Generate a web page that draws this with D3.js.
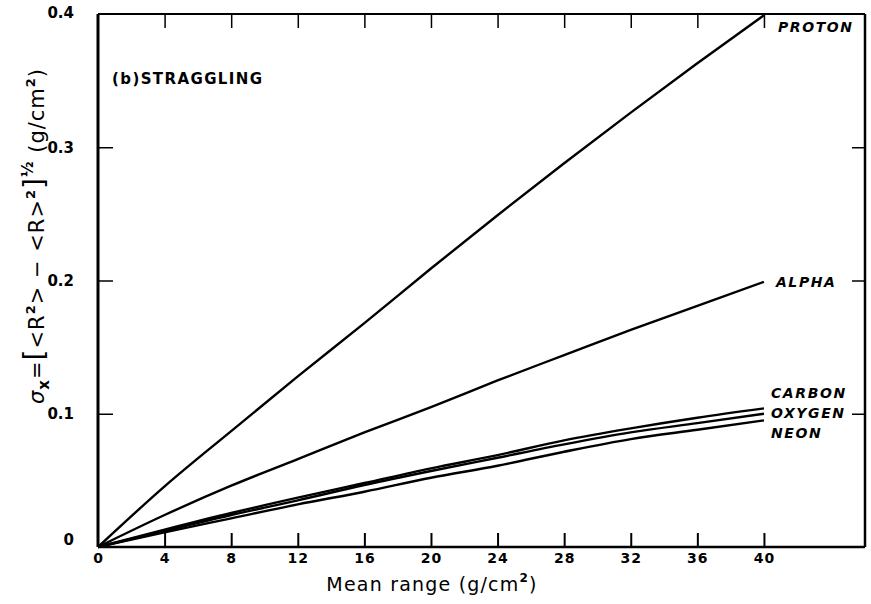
<!DOCTYPE html>
<html>
<head>
<meta charset="utf-8">
<script src="https://cdn.jsdelivr.net/npm/d3@7"></script>
<style>
  body { margin: 0; background: #fff; }
  text { font-family: "DejaVu Sans", "Liberation Sans", sans-serif; fill: #000; }
</style>
</head>
<body>
<svg id="chart" width="871" height="604"></svg>
<script>
// mean range values (g/cm^2)
const ranges = [0, 4, 8, 12, 16, 20, 24, 28, 32, 36, 40];

// straggling sigma_x (g/cm^2)
const proton = [0, 0.0455, 0.087, 0.128, 0.168, 0.209, 0.249, 0.288, 0.326, 0.363, 0.399];
const alpha  = [0, 0.024, 0.046, 0.066, 0.086, 0.105, 0.125, 0.144, 0.163, 0.181, 0.199];
const carbon = [0, 0.013, 0.0255, 0.037, 0.048, 0.059, 0.069, 0.080, 0.089, 0.097, 0.104];
const oxygen = [0, 0.012, 0.024, 0.035, 0.0465, 0.057, 0.067, 0.077, 0.086, 0.093, 0.100];
const neon   = [0, 0.011, 0.0215, 0.032, 0.0415, 0.052, 0.061, 0.0715, 0.081, 0.088, 0.095];

const seriesNames = ["PROTON", "ALPHA", "CARBON", "OXYGEN", "NEON"];
const seriesValues = [proton, alpha, carbon, oxygen, neon];

const xTicks = [0, 4, 8, 12, 16, 20, 24, 28, 32, 36, 40];
const yTicks = [0, 0.1, 0.2, 0.3, 0.4];
const yTickLabels = ["0", "0.1", "0.2", "0.3", "0.4"];

const svg = d3.select("#chart");
const frame = { left: 98, right: 865, top: 14, bottom: 547 };

const x = d3.scaleLinear().domain([0, 46.07]).range([frame.left, frame.right]);
const y = d3.scaleLinear().domain([0, 0.4]).range([frame.bottom, frame.top]);

// frame
svg.append("line").attr("x1", frame.left).attr("x2", frame.left).attr("y1", frame.top).attr("y2", frame.bottom)
    .attr("stroke", "#000").attr("stroke-width", 3);
svg.append("line").attr("x1", frame.left).attr("x2", frame.right).attr("y1", frame.bottom).attr("y2", frame.bottom)
    .attr("stroke", "#000").attr("stroke-width", 2.5);
svg.append("line").attr("x1", frame.left).attr("x2", frame.right).attr("y1", frame.top).attr("y2", frame.top)
    .attr("stroke", "#000").attr("stroke-width", 2);
svg.append("line").attr("x1", frame.right).attr("x2", frame.right).attr("y1", frame.top).attr("y2", frame.bottom)
    .attr("stroke", "#000").attr("stroke-width", 2.5);

// bottom axis: ticks pointing inward
const xAxis = svg.append("g")
    .attr("transform", `translate(0,${frame.bottom})`)
    .call(d3.axisBottom(x).tickValues(xTicks).tickSizeInner(-14).tickSizeOuter(0).tickPadding(6).tickFormat(d3.format("d")));
xAxis.select(".domain").remove();
xAxis.selectAll(".tick line").attr("stroke-width", 2)
    .attr("display", d => d === 0 ? "none" : null);
xAxis.selectAll(".tick text")
    .attr("font-size", 14).attr("font-weight", "bold")
    .attr("font-family", "DejaVu Sans, sans-serif")
    .attr("letter-spacing", 1);

// top ticks
const xTop = svg.append("g")
    .attr("transform", `translate(0,${frame.top})`)
    .call(d3.axisTop(x).tickValues(xTicks.slice(1)).tickSizeInner(-14).tickSizeOuter(0).tickFormat(""));
xTop.select(".domain").remove();
xTop.selectAll(".tick line").attr("stroke-width", 1.5);

// left axis
const yAxis = svg.append("g")
    .attr("transform", `translate(${frame.left},0)`)
    .call(d3.axisLeft(y).tickValues(yTicks).tickSizeInner(-15).tickSizeOuter(0).tickPadding(24)
        .tickFormat((d, i) => yTickLabels[i]));
yAxis.select(".domain").remove();
yAxis.selectAll(".tick line").attr("stroke-width", 1.5)
    .attr("display", d => (d === 0 || d === 0.4) ? "none" : null);
yAxis.selectAll(".tick text")
    .attr("font-size", 15).attr("font-weight", "bold")
    .attr("font-family", "DejaVu Sans, sans-serif")
    .attr("dy", d => d === 0 ? "-0.2em" : (d === 0.4 ? "0.25em" : "0.32em"));

// right ticks
const yRight = svg.append("g")
    .attr("transform", `translate(${frame.right},0)`)
    .call(d3.axisRight(y).tickValues([0.1, 0.2, 0.3]).tickSizeInner(-13).tickSizeOuter(0).tickFormat(""));
yRight.select(".domain").remove();
yRight.selectAll(".tick line").attr("stroke-width", 1.5);

// curves
const line = d3.line()
    .x((d, i) => x(ranges[i]))
    .y(d => y(d))
    .curve(d3.curveMonotoneX);

svg.append("g").selectAll("path")
    .data(seriesValues)
    .join("path")
    .attr("d", line)
    .attr("fill", "none")
    .attr("stroke", "#000")
    .attr("stroke-width", 2.4);

// series labels
const labelPos = [
    { name: "PROTON", dx: 14, yv: 0.3905 },
    { name: "ALPHA", dx: 12, yv: 0.1985 },
    { name: "CARBON", dx: 7, yv: 0.1155 },
    { name: "OXYGEN", dx: 7, yv: 0.1005 },
    { name: "NEON", dx: 7, yv: 0.0855 }
];
svg.append("g").selectAll("text")
    .data(labelPos)
    .join("text")
    .attr("x", d => x(40) + d.dx)
    .attr("y", d => y(d.yv))
    .attr("dy", "0.35em")
    .attr("font-size", 14)
    .attr("font-weight", "bold")
    .attr("font-style", "italic")
    .attr("letter-spacing", 1.6)
    .text(d => d.name);

// panel title
svg.append("text")
    .attr("x", 112).attr("y", 79).attr("dy", "0.35em")
    .attr("font-size", 15).attr("font-weight", "bold")
    .attr("letter-spacing", 1.4)
    .text("(b)STRAGGLING");

// x axis title
const xTitle = svg.append("text")
    .attr("x", 432).attr("y", 591)
    .attr("text-anchor", "middle")
    .attr("font-size", 19)
    .attr("letter-spacing", 1.2);
xTitle.append("tspan").text("Mean range (g/cm");
xTitle.append("tspan").attr("dy", -9).attr("font-size", 12).attr("font-weight", "bold").text("2");
xTitle.append("tspan").attr("dy", 9).text(")");

// y axis title
const yTitle = svg.append("text")
    .attr("transform", "translate(44,236) rotate(-90)")
    .attr("text-anchor", "middle")
    .attr("font-size", 21)
    .attr("letter-spacing", 1);
yTitle.append("tspan").attr("font-style", "italic").text("σ");
yTitle.append("tspan").attr("dy", 5).attr("font-size", 15).attr("font-weight", "bold").text("x");
yTitle.append("tspan").attr("dy", -5).text("=");
yTitle.append("tspan").attr("font-size", 28).text("[");
yTitle.append("tspan").text("<R");
yTitle.append("tspan").attr("dy", -9).attr("font-size", 13).attr("font-weight", "bold").text("2");
yTitle.append("tspan").attr("dy", 9).text("> − <R>");
yTitle.append("tspan").attr("dy", -9).attr("font-size", 13).attr("font-weight", "bold").text("2");
yTitle.append("tspan").attr("dy", 9).attr("font-size", 28).text("]");
yTitle.append("tspan").attr("dy", -11).attr("font-size", 15).attr("font-weight", "bold").text("½");
yTitle.append("tspan").attr("dy", 11).text(" (g/cm");
yTitle.append("tspan").attr("dy", -9).attr("font-size", 13).attr("font-weight", "bold").text("2");
yTitle.append("tspan").attr("dy", 9).text(")");
</script>
</body>
</html>
